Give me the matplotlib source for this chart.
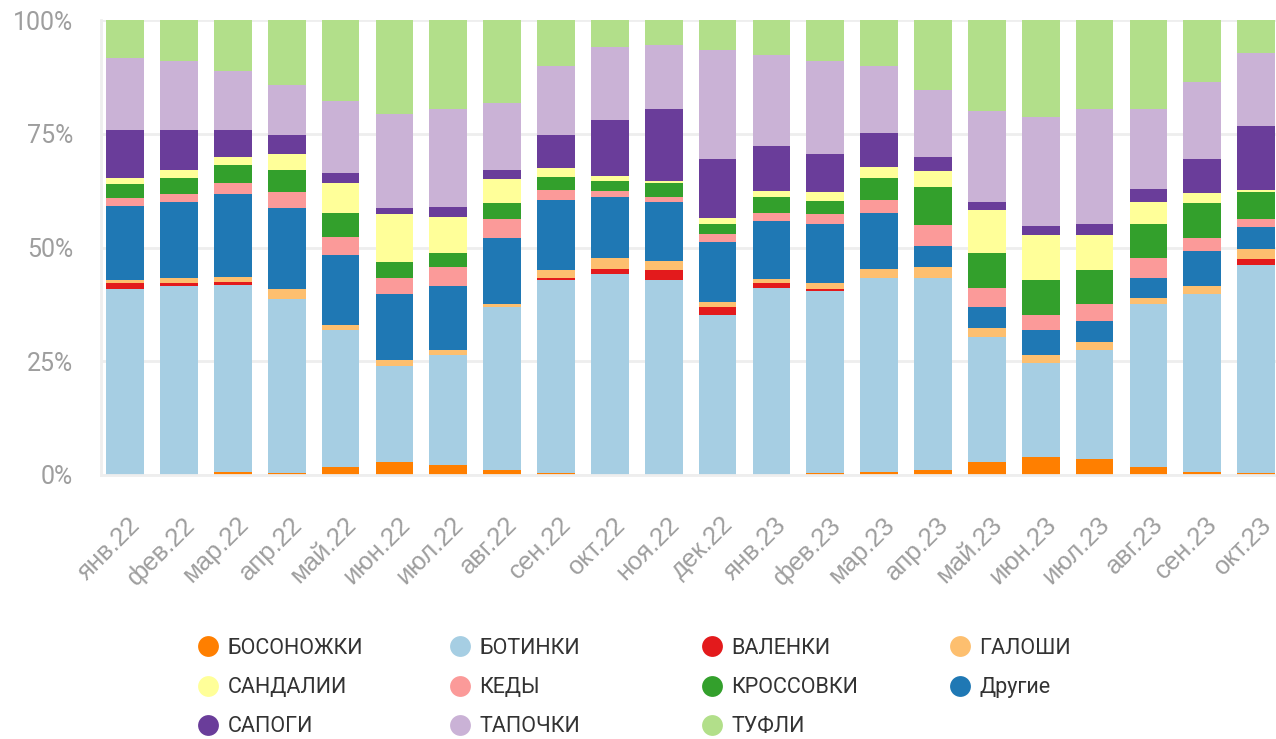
import numpy as np
import matplotlib.pyplot as plt
import matplotlib.transforms as mtransforms
from matplotlib.lines import Line2D

months = ['янв.22', 'фев.22', 'мар.22', 'апр.22', 'май.22', 'июн.22', 'июл.22', 'авг.22',
          'сен.22', 'окт.22', 'ноя.22', 'дек.22', 'янв.23', 'фев.23', 'мар.23', 'апр.23',
          'май.23', 'июн.23', 'июл.23', 'авг.23', 'сен.23', 'окт.23']

# shares in % (stacked bottom -> top)
bosonozhki = [0, 0, 0.7, 0.4, 1.8, 2.9, 2.2, 1.1, 0.4, 0, 0, 0, 0, 0.4, 0.7, 1.1, 2.9, 4.0, 3.5, 1.8, 0.7, 0.4]
botinki = [41.0, 41.6, 41.0, 38.3, 30.0, 21.1, 24.2, 35.9, 42.5, 44.1, 43.0, 35.2, 41.0, 40.1, 42.7, 42.3, 27.5, 20.7, 24.0, 35.7, 39.2, 45.8]
valenki = [1.3, 0.7, 0.7, 0, 0, 0, 0, 0, 0.4, 1.1, 2.2, 1.8, 1.3, 0.4, 0, 0, 0, 0, 0, 0, 0, 1.3]
galoshi = [0.7, 1.1, 1.1, 2.2, 1.1, 1.3, 1.1, 0.7, 1.8, 2.4, 1.8, 1.1, 0.7, 1.3, 1.8, 2.4, 1.8, 1.8, 1.8, 1.3, 1.8, 2.2]
drugie = [16.3, 16.5, 18.3, 17.6, 15.4, 14.5, 14.1, 14.5, 15.4, 13.4, 13.0, 13.0, 12.8, 13.0, 12.3, 4.6, 4.8, 5.3, 4.6, 4.6, 7.7, 4.8]
kedy = [1.8, 1.8, 2.4, 3.5, 4.0, 3.5, 4.2, 4.2, 2.2, 1.3, 1.1, 1.8, 1.8, 2.2, 2.9, 4.6, 4.2, 3.5, 3.7, 4.2, 2.9, 1.8]
krossovki = [2.9, 3.5, 4.0, 4.8, 5.3, 3.5, 2.9, 3.5, 2.9, 2.2, 3.1, 2.2, 3.5, 2.9, 4.8, 8.4, 7.5, 7.5, 7.5, 7.5, 7.7, 5.9]
sandalii = [1.3, 1.8, 1.8, 3.5, 6.6, 10.6, 8.1, 5.3, 1.8, 1.1, 0.4, 1.3, 1.3, 1.8, 2.4, 3.5, 9.5, 10.1, 7.7, 4.8, 2.2, 0.4]
sapogi = [10.6, 8.8, 5.9, 4.2, 2.2, 1.3, 2.0, 1.8, 7.3, 12.3, 15.9, 13.0, 9.9, 8.4, 7.5, 2.9, 1.8, 1.8, 2.4, 2.9, 7.3, 14.1]
tapochki = [15.9, 15.2, 13.0, 11.0, 15.9, 20.5, 21.6, 14.8, 15.2, 16.1, 14.1, 24.0, 20.0, 20.5, 14.8, 14.8, 20.0, 24.0, 25.1, 17.6, 17.0, 15.9]
tufli = [8.4, 9.0, 11.2, 14.3, 17.8, 20.7, 19.6, 18.3, 10.1, 5.9, 5.5, 6.6, 7.7, 9.0, 10.1, 15.4, 20.0, 21.4, 19.6, 19.6, 13.7, 7.3]

series = [
    ('БОСОНОЖКИ', bosonozhki, '#ff7f00'),
    ('БОТИНКИ', botinki, '#a6cee3'),
    ('ВАЛЕНКИ', valenki, '#e31a1c'),
    ('ГАЛОШИ', galoshi, '#fdbf6f'),
    ('Другие', drugie, '#1f78b4'),
    ('КЕДЫ', kedy, '#fb9a99'),
    ('КРОССОВКИ', krossovki, '#33a02c'),
    ('САНДАЛИИ', sandalii, '#ffff99'),
    ('САПОГИ', sapogi, '#6a3d9a'),
    ('ТАПОЧКИ', tapochki, '#cab2d6'),
    ('ТУФЛИ', tufli, '#b2df8a'),
]

fig = plt.figure(figsize=(12.76, 7.39), dpi=100)
ax = fig.add_axes([101 / 1276, 1 - 475 / 739, 1 - 101 / 1276, 455 / 739])

x = np.arange(len(months))
data = np.array([s[1] for s in series], dtype=float)
data = data / data.sum(axis=0) * 100  # normalise every month to 100%
bottom = np.zeros(len(months))
for (name, _, color), vals in zip(series, data):
    ax.bar(x, vals, 0.7, bottom=bottom, color=color, label=name, zorder=2)
    bottom += vals

ax.set_ylim(0, 100)
ax.set_xlim(-0.45, len(months) - 1 + 0.37)
ax.set_yticks([0, 25, 50, 75, 100])
ax.set_yticklabels(['0%', '25%', '50%', '75%', '100%'], family='Roboto', fontsize=18, color='#9e9e9e')
ax.tick_params(axis='y', length=0, pad=20)
ax.grid(axis='y', color='#eeeeee', linewidth=2, zorder=0)
ax.set_axisbelow(True)

ax.set_xticks(x)
ax.set_xticklabels(months, rotation=45, ha='right', rotation_mode='anchor',
                   family='Liberation Sans', fontsize=18.5, color='#9e9e9e')
ax.tick_params(axis='x', length=0, pad=27)
shift = mtransforms.ScaledTranslation(3 / 100, 0, fig.dpi_scale_trans)
for lab in ax.get_xticklabels():
    lab.set_transform(lab.get_transform() + shift)

for side in ['top', 'right']:
    ax.spines[side].set_visible(False)
for side in ['left', 'bottom']:
    ax.spines[side].set_color('#eeeeee')
    ax.spines[side].set_linewidth(2)

# legend: four columns placed by hand
cols = [[0, 7, 8], [1, 5, 9], [2, 6, 10], [3, 4]]
col_x = [195, 447, 699, 947]
for cx, idx in zip(col_x, cols):
    handles = [Line2D([], [], marker='o', linestyle='none', markersize=15,
                      markerfacecolor=series[i][2], markeredgecolor='none') for i in idx]
    labels = [series[i][0] for i in idx]
    fig.legend(handles, labels, loc='upper left', bbox_to_anchor=(cx / 1276, 1 - 638 / 739),
               frameon=False, prop={'family': 'Roboto', 'size': 15.5}, labelcolor='#333333',
               handletextpad=0.3, labelspacing=0.84, borderaxespad=0, borderpad=0,
               handlelength=1.2)

fig.savefig('out.png', dpi=100)
